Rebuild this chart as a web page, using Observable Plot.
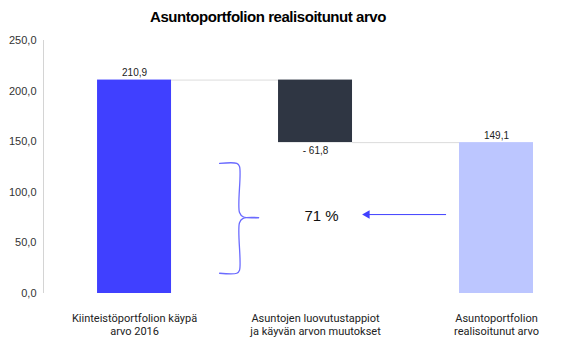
<!DOCTYPE html>
<html><head><meta charset="utf-8">
<script src="https://cdn.jsdelivr.net/npm/d3@7"></script>
<script src="https://cdn.jsdelivr.net/npm/@observablehq/plot@0.6"></script>
<style>
body{margin:0;background:#fff;}
#title{line-height:22px;padding-top:8px;box-sizing:border-box;height:30px;font:bold 15px "Liberation Sans",Arial,sans-serif;letter-spacing:-0.45px;text-align:center;color:#000;padding-right:42px;width:578px;overflow:visible;}
</style>
</head><body>
<div id="title">Asuntoportfolion realisoitunut arvo</div>
<div id="chart"></div>
<script>
// --- data ---
const categories = ["Kiinteistöportfolion käypä\narvo 2016", "Asuntojen luovutustappiot\nja käyvän arvon muutokset", "Asuntoportfolion\nrealisoitunut arvo"];
const values = [210.9, -61.8, 149.1];
const kinds = ["total", "delta", "total"];
const yTicks = [0, 50, 100, 150, 200, 250];
const braceSpan = [20, 128.5];     // value range covered by the brace
const annotationLevel = 75;         // y value of brace tip / percentage / arrow

// --- styles ---
const colors = ["#4040ff", "#2f3643", "#bcc6ff"];
const accent = "#4040ff";
const braceColor = "#6b6bff";
const fmt = v => v.toFixed(1).replace(".", ",");

// waterfall rows
let running = 0;
const rows = categories.map((c, i) => {
  let y1, y2;
  if (kinds[i] === "total") { y1 = 0; y2 = values[i]; running = values[i]; }
  else { y1 = running; y2 = running + values[i]; running = y2; }
  return {i, c, y1, y2, v: values[i], kind: kinds[i], color: colors[i]};
});
const hw = 0.2044;
const connectors = rows.slice(0, -1).map((r, k) => ({x1: r.i + hw, x2: rows[k + 1].i - hw, level: r.y2}));
const totals = rows.filter(d => d.kind === "total");
const deltas = rows.filter(d => d.kind === "delta");

const xDomain = [-0.503, 2.453];
const pct = Math.round(values[2] / values[0] * 100);

// brace geometry (in data units)
const [B, T] = braceSpan;
const M = annotationLevel;
const bx0 = 0.47, bxc = 0.565, bxv = 0.58, bxt = 0.685;
const brace = [
  {x: bx0, y: T, z: "a"}, {x: bxc, y: T, z: "a"}, {x: bxv, y: T - 3, z: "a"}, {x: bxv, y: M + 5, z: "a"}, {x: 0.6, y: M + 0.8, z: "a"}, {x: bxt, y: M, z: "a"},
  {x: bx0, y: B, z: "b"}, {x: bxc, y: B, z: "b"}, {x: bxv, y: B + 3, z: "b"}, {x: bxv, y: M - 5, z: "b"}, {x: 0.6, y: M - 0.8, z: "b"}, {x: bxt, y: M, z: "b"}
];
const arrow = [{x1: 1.724, x2: 1.285, y: M + 3}];

const plot = Plot.plot({
  width: 578, height: 325,
  marginTop: 10, marginBottom: 62, marginLeft: 43, marginRight: 0,
  style: {fontFamily: "'Liberation Sans', Arial, sans-serif", background: "#fff"},
  x: {type: "linear", domain: xDomain, axis: null},
  y: {domain: [0, 250], axis: null},
  marks: [
    Plot.ruleX([xDomain[0]], {stroke: "#d4d4d4"}),
    Plot.axisY({ticks: yTicks, tickSize: 0, tickPadding: 7, tickFormat: fmt, fontSize: 11, fill: "#333"}),
    Plot.ruleY(connectors, {y: "level", x1: "x1", x2: "x2", stroke: "#dcdcdc"}),
    Plot.rectY(rows, {x1: d => d.i - hw, x2: d => d.i + hw, y1: "y1", y2: "y2", fill: d => d.color}),
    Plot.text(totals, {x: "i", y: "y2", text: d => fmt(d.v), dy: -7, fontSize: 10, fill: "#222"}),
    Plot.text(deltas, {x: "i", y: d => Math.min(d.y1, d.y2), text: d => "- " + fmt(Math.abs(d.v)), dy: 8, fontSize: 10, fill: "#222"}),
    Plot.text(rows, {x: "i", y: 0, text: "c", lineAnchor: "top", dy: 19, fontSize: 11, lineHeight: 1.18, fontFamily: "Roboto", fill: "#222"}),
    Plot.line(brace, {x: "x", y: "y", z: "z", curve: "catmull-rom", stroke: braceColor, strokeWidth: 1.3}),
    Plot.text([pct], {x: 1.033, y: M + 1, text: d => d + " %", fontSize: 15, fill: "#111"}),
    Plot.ruleY(arrow, {y: "y", x1: "x1", x2: "x2", stroke: accent, strokeWidth: 1}),
    Plot.dot(arrow, {x: "x2", y: "y", symbol: "triangle", r: 3.2, rotate: -90, fill: accent, stroke: null})
  ]
});
document.getElementById("chart").appendChild(plot);
</script>
</body></html>
